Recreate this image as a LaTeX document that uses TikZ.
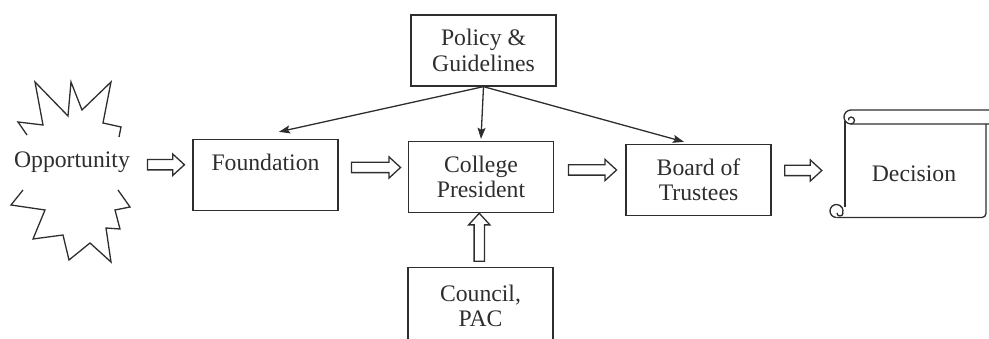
\documentclass[tikz,border=0pt]{standalone}
\usepackage{fontspec}
\setmainfont{Liberation Serif}
\usetikzlibrary{arrows.meta,shapes.arrows,calc}

\tikzset{
  box/.style={draw, rectangle, align=center, minimum width=145pt, minimum height=71pt, inner sep=2pt},
  blockarrow/.style={single arrow, draw, single arrow head extend=5.5pt, single arrow tip angle=85,
    inner xsep=0pt, inner ysep=4.5pt, minimum width=1pt},
  thinarrow/.style={-{Stealth[length=11pt,width=8pt,inset=2pt]}}
}

\begin{document}
\begin{tikzpicture}[x=1pt, y=1pt, line width=1.3pt, color=black!82, text=black!82,
    font=\fontsize{23.7}{25.5}\selectfont]
          \useasboundingbox (0,0) rectangle (989,339);
          \clip (0,0) rectangle (989,339);

          \draw (27,204) -- (18,217) -- (43,214) -- (35,257) -- (68,223) -- (71,257) -- (82,229)
                -- (111,257) -- (103,216) -- (121,212) -- (119,202);
          \draw (23,149) -- (11,134) -- (45,129) -- (33,100) -- (63,104) -- (69,79) -- (90,96)
                -- (111,77) -- (106,111) -- (120,110) -- (115,129) -- (130,132) -- (118,149);
          \node (opportunity) at (72,176.5) {Opportunity};

          \node[box] (policy) at (483.5,288.5) {Policy \&\\Guidelines};
          \node[box] (foundation) at (265.5,164) {Foundation\\\mbox{}};
          \node[box] (college) at (481,162) {College\\President};
          \node[box] (board) at (698.5,159) {Board of\\Trustees};
          \node[box, anchor=north, minimum height=76pt] (council) at (480.5,72) {Council,\\PAC};
          \node[minimum width=168pt, minimum height=90pt] (decision) at (914,165) {Decision};

          \draw (989,229) -- (851,229) arc[start angle=90, end angle=270, radius=7] -- (989,215);
          \draw (851,215) arc[start angle=-90, end angle=90, radius=3.5] arc[start angle=90, end angle=200, radius=2.5];
          \draw (845,218) -- (845,132);
          \draw[rounded corners=4pt] (836.5,121.5) -- (986,121.5) -- (986,215);
          \draw (836.5,121.5) arc[start angle=270, end angle=-20, radius=6.5];
          \draw (843,126) arc[start angle=0, end angle=-180, radius=3];

          \path (opportunity.east) -- (foundation.west) node[midway, yshift=4pt, blockarrow, minimum height=37pt] (oppfound) {};
          \path (foundation.east) -- (college.west) node[midway, yshift=8.5pt, blockarrow, minimum height=49pt] (foundcoll) {};
          \path (college.east) -- (board.west) node[midway, yshift=8.5pt, blockarrow, minimum height=48pt] (collboard) {};
          \path (board.east) -- (decision.west) node[midway, yshift=6.5pt, blockarrow, minimum height=37pt] (boarddec) {};
          \path (council.north) -- (college.south) node[midway, xshift=-1.5pt, blockarrow, rotate=90, minimum height=48pt] (councoll) {};

          \draw[thinarrow] (policy.south) -- ([shift={(13.5,7)}]foundation.north);
          \draw[thinarrow] (policy.south) -- ([yshift=2]college.north);
          \draw[thinarrow] (policy.south) -- ([shift={(-14.5,2)}]board.north);
\end{tikzpicture}
\end{document}
